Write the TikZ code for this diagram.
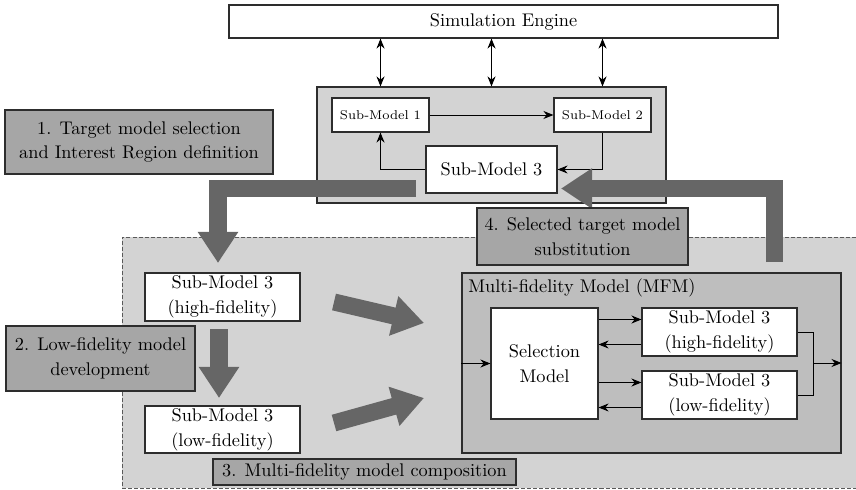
\documentclass[tikz,border=0pt]{standalone}
\usetikzlibrary{arrows.meta,fit,calc}

\definecolor{paneL}{RGB}{211,211,211}
\definecolor{paneM}{RGB}{190,190,190}
\definecolor{stageC}{RGB}{166,166,166}
\definecolor{flowC}{RGB}{102,102,102}
\definecolor{edgeC}{RGB}{45,45,45}

% box given by its corners (in picture units): name, style, x1, y1, x2, y2, text
\newcommand\cornerbox[7]{%
  \node[#2, minimum width={(#5-#3)*0.546pt}, minimum height={(#6-#4)*0.546pt}]
    (#1) at ({(#3+#5)/2},{(#4+#6)/2}) {#7};}

\tikzset{
  txt/.style={font=\fontsize{10}{13.5}\selectfont},
  box/.style={draw=edgeC, line width=0.6pt, fill=white, inner sep=0pt, align=center, txt},
  smallbox/.style={box, font=\scriptsize},
  stagebox/.style={box, fill=stageC},
  panel/.style={draw=edgeC, line width=0.6pt, fill=paneL, inner sep=0pt},
  mfmpanel/.style={panel, fill=paneM},
  region/.style={panel, draw=black!65, line width=0.5pt, dash pattern=on 2.2pt off 1.1pt},
  link/.style={line width=0.5pt, -{Stealth[length=5.5pt,width=4.4pt]}},
  dlink/.style={line width=0.5pt, {Stealth[length=5.5pt,width=4.4pt]}-{Stealth[length=5.5pt,width=4.4pt]}},
  bigflow/.style={draw=flowC, line width=9.3pt, line join=miter, -{Triangle[length=17pt,width=21pt]}}
}

\begin{document}
\begin{tikzpicture}[x=0.546pt, y=-0.546pt]
\useasboundingbox (0,0) rectangle (856,490);

% composition area (dashed), running past the right edge
\cornerbox{area}{region}{122}{237}{862}{488}{}

% simulation engine and the running model
\cornerbox{engine}{box}{229}{5}{778}{38}{Simulation Engine}
\cornerbox{subsys}{panel}{317}{87}{666}{203}{}
\cornerbox{sm1}{smallbox}{332}{98}{429}{132}{Sub-Model 1}
\cornerbox{sm2}{smallbox}{554}{98}{651}{132}{Sub-Model 2}
\cornerbox{sm3}{box}{426}{146}{557}{193}{Sub-Model 3}

\draw[dlink] (engine.south -| sm1) -- (subsys.north -| sm1);
\draw[dlink] (engine.south -| subsys) -- (subsys.north);
\draw[dlink] (engine.south -| sm2) -- (subsys.north -| sm2);

\draw[link] (sm1) -- (sm2);
\draw[link] (sm2.south) |- (sm3.east);
\draw[link] (sm3.west) -| (sm1.south);

% fidelity variants
\cornerbox{hf}{box}{145}{273}{300}{321}{Sub-Model 3\\(high-fidelity)}
\cornerbox{lf}{box}{145}{406}{300}{453}{Sub-Model 3\\(low-fidelity)}

% multi-fidelity model
\cornerbox{mfm}{mfmpanel}{462}{273}{841}{453}{}
\node[txt, anchor=base west, inner sep=0pt] (mfmtitle) at (468,292) {Multi-fidelity Model (MFM)};
\cornerbox{sel}{box}{491}{308}{598}{419}{Selection\\Model}
\cornerbox{hfr}{box}{642}{308}{797}{356}{Sub-Model 3\\(high-fidelity)}
\cornerbox{lfr}{box}{642}{371}{797}{419}{Sub-Model 3\\(low-fidelity)}

\draw[link] (mfm.west |- sel) -- (sel.west);
\draw[link] ($(sel.east |- hfr)+(0,-12.5)$) -- ($(hfr.west)+(0,-12.5)$);
\draw[link] ($(hfr.west)+(0,12.5)$) -- ($(sel.east |- hfr)+(0,12.5)$);
\draw[link] ($(sel.east |- lfr)+(0,-12.5)$) -- ($(lfr.west)+(0,-12.5)$);
\draw[link] ($(lfr.west)+(0,12.5)$) -- ($(sel.east |- lfr)+(0,12.5)$);

\coordinate (merge) at (813,363);
\draw[line width=0.5pt] (hfr.east) -| (merge) |- (lfr.east);
\draw[link] (merge) -- (mfm.east |- merge);

% process flow arrows
\coordinate (f1a) at (416,188.5);
\coordinate (f1b) at (218,188.5);
\coordinate (f1c) at (218,263);
\draw[bigflow] (f1a) -- (f1b) -- (f1c);

\coordinate (f2a) at (219,329);
\coordinate (f2b) at (219,398);
\draw[bigflow] (f2a) -- (f2b);

\coordinate (f3a) at (334,302);
\coordinate (f3b) at (424,323);
\draw[bigflow] (f3a) -- (f3b);
\coordinate (f3c) at (334,423);
\coordinate (f3d) at (424,398);
\draw[bigflow] (f3c) -- (f3d);

\coordinate (f4a) at (774.5,262);
\coordinate (f4b) at (774.5,188.5);
\coordinate (f4c) at (561,188.5);
\draw[bigflow] (f4a) -- (f4b) -- (f4c);

% process stages
\cornerbox{s1}{stagebox}{5}{110}{273}{174}{1. Target model selection\\and Interest Region definition}
\cornerbox{s2}{stagebox}{6}{326}{195}{391}{2. Low-fidelity model\\development}
\cornerbox{s3}{stagebox}{213}{459}{516}{485}{3. Multi-fidelity model composition}
\cornerbox{s4}{stagebox}{477}{208}{688}{265}{4. Selected target model\\substitution}
\end{tikzpicture}
\end{document}
